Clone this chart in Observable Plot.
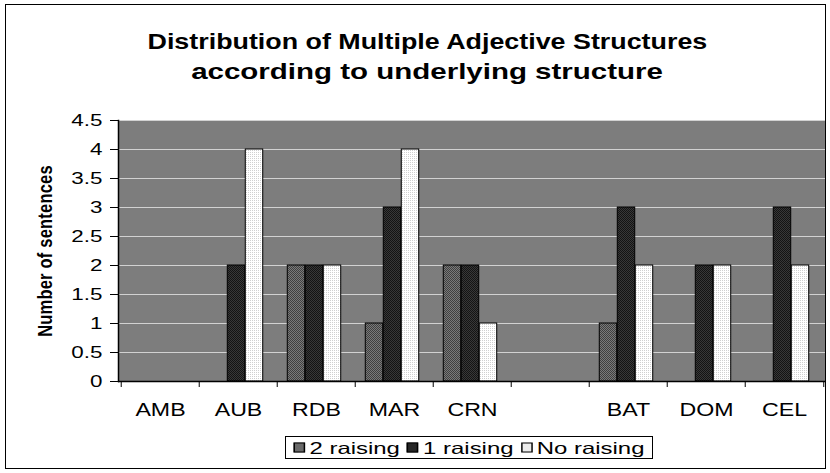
<!DOCTYPE html>
<html>
<head>
<meta charset="utf-8">
<script src="https://cdn.jsdelivr.net/npm/d3@7"></script>
<script src="https://cdn.jsdelivr.net/npm/@observablehq/plot@0.6"></script>
<style>
  html, body { margin: 0; padding: 0; background: #fff; }
  #wrap { position: relative; width: 830px; height: 473px; overflow: hidden; font-family: "Liberation Sans", Arial, sans-serif; }
  #frame { position: absolute; left: 5px; top: 4px; width: 821px; height: 465px; border: 1.5px solid #000; box-sizing: border-box; pointer-events: none; }
  #title { position: absolute; left: 0; top: 27px; width: 854px; text-align: center; font-weight: bold; font-size: 22px; line-height: 30px; color: #000; }
  #title div span { display: inline-block; transform: scaleX(1.22); transform-origin: center; }
  #title div + div span { transform: scaleX(1.34); }
  #ylab { position: absolute; left: 45px; top: 251px; transform: translate(-50%, -50%) rotate(-90deg) scaleY(1.2); white-space: nowrap; font-weight: bold; font-size: 16.5px; color: #000; letter-spacing: 0.2px; }
  #legend { position: absolute; left: 285px; top: 436px; width: 368px; height: 23px; border: 1px solid #000; box-sizing: border-box; background: #fff; overflow: hidden; }
  #legendInner { position: absolute; left: 50%; top: 50%; transform: translate(-50%, -50%) scaleX(1.45); display: flex; align-items: center; gap: 5px; font-size: 16.5px; white-space: nowrap; }
  .item { display: flex; align-items: center; gap: 3px; }
  .sw { width: 6px; height: 8px; border: 1px solid #000; display: inline-block; }
  #chart { position: absolute; left: 0; top: 0; }
</style>
</head>
<body>
<div id="wrap">
  <div id="chart"></div>
  <div id="frame"></div>
  <div id="title"></div>
  <div id="ylab"></div>
  <div id="legend"><div id="legendInner"></div></div>
</div>
<script>
const titleLines = ["Distribution of Multiple Adjective Structures", "according to underlying structure"];
const yLabel = "Number of sentences";
const categories = ["AMB", "AUB", "RDB", "MAR", "CRN", " ", "BAT", "DOM", "CEL"];
const series = ["2 raising", "1 raising", "No raising"];
const raising2 = [0, 0, 2, 1, 2, 0, 1, 0, 0];
const raising1 = [0, 2, 2, 3, 2, 0, 3, 2, 3];
const noRaising = [0, 4, 2, 4, 1, 0, 2, 2, 2];
const yTicks = [0, 0.5, 1, 1.5, 2, 2.5, 3, 3.5, 4, 4.5];

const seriesValues = [raising2, raising1, noRaising];
const seriesFill = ["url(#p2)", "url(#p1)", "url(#p0)"];
const swatchCss = ["#6a6a6a", "#262626", "#ececec"];

const W = 830, H = 473, mL = 118, mR = 5, mT = 120, mB = 92;
const bw = (W - mL - mR) / categories.length;
const barW = 18;
const inset = (bw - barW) / 2;
const offsets = [-20, -2, 16];

const barMarks = series.map((s, k) => {
  const rows = categories.map((c, i) => ({category: c, series: s, value: seriesValues[k][i]})).filter(d => d.value > 0);
  return Plot.barY(rows, {
    x: "category", y: "value",
    insetLeft: inset, insetRight: inset, dx: offsets[k],
    fill: seriesFill[k], stroke: "#000", strokeWidth: 1
  });
});

const chart = Plot.plot({
  width: W, height: H,
  marginTop: mT, marginBottom: mB, marginLeft: mL, marginRight: mR,
  x: {domain: categories, padding: 0, axis: null},
  y: {domain: [0, 4.5], axis: null},
  style: {fontFamily: "'Liberation Sans', Arial, sans-serif", background: "transparent", color: "#000"},
  marks: [
    Plot.frame({fill: "url(#bg)", stroke: "none"}),
    Plot.gridY(yTicks.filter(t => t > 0), {stroke: "#d2d2d2", strokeOpacity: 1, strokeWidth: 1}),
    ...barMarks,
    Plot.ruleY([0], {stroke: "#000", strokeWidth: 1.5}),
    Plot.frame({anchor: "left", stroke: "#000", strokeWidth: 1.5}),
    Plot.axisY(yTicks, {tickSize: 8, tickPadding: 8, fontSize: 16, tickFormat: d => String(d), label: null}),
    Plot.axisX(categories, {tickSize: 6, dx: -bw / 2, tickFormat: () => "", label: null}),
    Plot.axisX([categories[categories.length - 1]], {tickSize: 6, dx: bw / 2, tickFormat: () => "", label: null}),
    Plot.axisX(categories, {tickSize: 0, tickPadding: 21, fontSize: 19, label: null})
  ]
});

chart.insertAdjacentHTML("afterbegin", `
<defs>
  <pattern id="bg" width="2" height="2" patternUnits="userSpaceOnUse">
    <rect width="2" height="2" fill="#969696"/>
    <rect width="1" height="1" fill="#646464"/>
    <rect x="1" y="1" width="1" height="1" fill="#646464"/>
  </pattern>
  <pattern id="p2" width="2" height="2" patternUnits="userSpaceOnUse">
    <rect width="2" height="2" fill="#7a7a7a"/>
    <rect width="1" height="1" fill="#404040"/>
    <rect x="1" y="1" width="1" height="1" fill="#404040"/>
  </pattern>
  <pattern id="p1" width="2" height="2" patternUnits="userSpaceOnUse">
    <rect width="2" height="2" fill="#383838"/>
    <rect width="1" height="1" fill="#141414"/>
    <rect x="1" y="1" width="1" height="1" fill="#141414"/>
  </pattern>
  <pattern id="p0" width="2" height="2" patternUnits="userSpaceOnUse">
    <rect width="2" height="2" fill="#ffffff"/>
    <rect width="1" height="1" fill="#d0d0d0"/>
  </pattern>
</defs>`);

// horizontally stretch the axis texts (the reference scan is widened)
const yTickStrings = new Set(yTicks.map(String));
const catStrings = new Set(categories.filter(c => c.trim() !== ""));
function stretch(t, sx, size) {
  t.style.fontSize = size + "px";
  t.setAttribute("font-size", size);
  const tr = t.getAttribute("transform");
  if (tr) {
    t.setAttribute("transform", tr + ` scale(${sx},1)`);
  } else {
    const x = +(t.getAttribute("x") || 0), y = +(t.getAttribute("y") || 0);
    t.removeAttribute("x"); t.removeAttribute("y");
    t.setAttribute("transform", `translate(${x},${y}) scale(${sx},1)`);
  }
}
chart.querySelectorAll("text").forEach(t => {
  const s = t.textContent.trim();
  if (yTickStrings.has(s)) stretch(t, 1.4, 16);
  else if (catStrings.has(s)) stretch(t, 1.22, 19);
});

document.getElementById("chart").appendChild(chart);
document.getElementById("title").innerHTML = titleLines.map(t => `<div><span>${t}</span></div>`).join("");
document.getElementById("ylab").textContent = yLabel;
const legend = document.getElementById("legendInner");
series.forEach((s, k) => {
  const item = document.createElement("div");
  item.className = "item";
  const sw = document.createElement("span");
  sw.className = "sw";
  sw.style.background = swatchCss[k];
  const tx = document.createElement("span");
  tx.textContent = s;
  item.appendChild(sw);
  item.appendChild(tx);
  legend.appendChild(item);
});
</script>
</body>
</html>
